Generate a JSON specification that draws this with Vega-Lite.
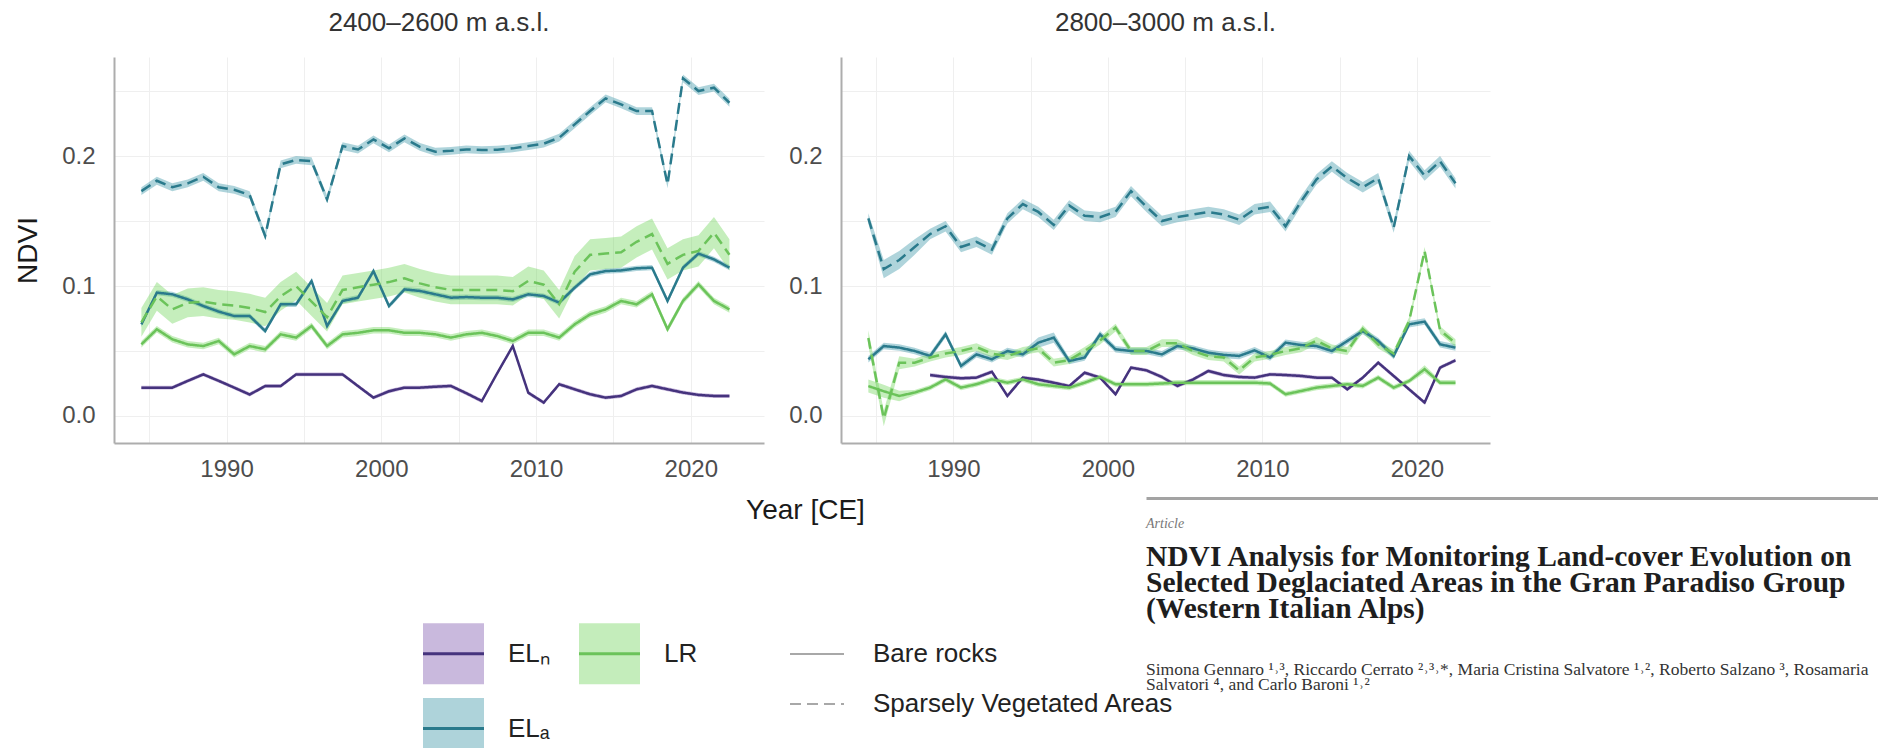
{
"$schema": "https://vega.github.io/schema/vega-lite/v6.json",
"padding": {"left": 14, "top": 10, "right": 0, "bottom": 0},
"background": "white",
"bounds": "flush",
"spacing": 441,
"datasets": {"ndvi": [
{"zone":"2400-2600","cls":"EL_N","cover":"BR","date":"1984-07","ndvi":0.0218,"se":0.0015},
{"zone":"2400-2600","cls":"EL_N","cover":"BR","date":"1985-07","ndvi":0.0218,"se":0.0015},
{"zone":"2400-2600","cls":"EL_N","cover":"BR","date":"1986-07","ndvi":0.0218,"se":0.0015},
{"zone":"2400-2600","cls":"EL_N","cover":"BR","date":"1987-07","ndvi":0.027,"se":0.0015},
{"zone":"2400-2600","cls":"EL_N","cover":"BR","date":"1988-07","ndvi":0.032,"se":0.0015},
{"zone":"2400-2600","cls":"EL_N","cover":"BR","date":"1989-07","ndvi":0.027,"se":0.0015},
{"zone":"2400-2600","cls":"EL_N","cover":"BR","date":"1990-07","ndvi":0.0218,"se":0.0015},
{"zone":"2400-2600","cls":"EL_N","cover":"BR","date":"1991-07","ndvi":0.0165,"se":0.0015},
{"zone":"2400-2600","cls":"EL_N","cover":"BR","date":"1992-07","ndvi":0.023,"se":0.0015},
{"zone":"2400-2600","cls":"EL_N","cover":"BR","date":"1993-07","ndvi":0.023,"se":0.0015},
{"zone":"2400-2600","cls":"EL_N","cover":"BR","date":"1994-07","ndvi":0.032,"se":0.0015},
{"zone":"2400-2600","cls":"EL_N","cover":"BR","date":"1995-07","ndvi":0.032,"se":0.0015},
{"zone":"2400-2600","cls":"EL_N","cover":"BR","date":"1996-07","ndvi":0.032,"se":0.0015},
{"zone":"2400-2600","cls":"EL_N","cover":"BR","date":"1997-07","ndvi":0.032,"se":0.0015},
{"zone":"2400-2600","cls":"EL_N","cover":"BR","date":"1998-07","ndvi":0.023,"se":0.0015},
{"zone":"2400-2600","cls":"EL_N","cover":"BR","date":"1999-07","ndvi":0.0141,"se":0.0015},
{"zone":"2400-2600","cls":"EL_N","cover":"BR","date":"2000-07","ndvi":0.019,"se":0.0015},
{"zone":"2400-2600","cls":"EL_N","cover":"BR","date":"2001-07","ndvi":0.0218,"se":0.0015},
{"zone":"2400-2600","cls":"EL_N","cover":"BR","date":"2002-07","ndvi":0.0218,"se":0.0015},
{"zone":"2400-2600","cls":"EL_N","cover":"BR","date":"2003-07","ndvi":0.0225,"se":0.0015},
{"zone":"2400-2600","cls":"EL_N","cover":"BR","date":"2004-07","ndvi":0.0231,"se":0.0015},
{"zone":"2400-2600","cls":"EL_N","cover":"BR","date":"2005-07","ndvi":0.0175,"se":0.0015},
{"zone":"2400-2600","cls":"EL_N","cover":"BR","date":"2006-07","ndvi":0.0115,"se":0.0015},
{"zone":"2400-2600","cls":"EL_N","cover":"BR","date":"2007-07","ndvi":0.033,"se":0.0015},
{"zone":"2400-2600","cls":"EL_N","cover":"BR","date":"2008-07","ndvi":0.0538,"se":0.0015},
{"zone":"2400-2600","cls":"EL_N","cover":"BR","date":"2009-07","ndvi":0.0179,"se":0.0015},
{"zone":"2400-2600","cls":"EL_N","cover":"BR","date":"2010-07","ndvi":0.0103,"se":0.0015},
{"zone":"2400-2600","cls":"EL_N","cover":"BR","date":"2011-07","ndvi":0.0244,"se":0.0015},
{"zone":"2400-2600","cls":"EL_N","cover":"BR","date":"2012-07","ndvi":0.0205,"se":0.0015},
{"zone":"2400-2600","cls":"EL_N","cover":"BR","date":"2013-07","ndvi":0.0167,"se":0.0015},
{"zone":"2400-2600","cls":"EL_N","cover":"BR","date":"2014-07","ndvi":0.0141,"se":0.0015},
{"zone":"2400-2600","cls":"EL_N","cover":"BR","date":"2015-07","ndvi":0.0154,"se":0.0015},
{"zone":"2400-2600","cls":"EL_N","cover":"BR","date":"2016-07","ndvi":0.0205,"se":0.0015},
{"zone":"2400-2600","cls":"EL_N","cover":"BR","date":"2017-07","ndvi":0.0231,"se":0.0015},
{"zone":"2400-2600","cls":"EL_N","cover":"BR","date":"2018-07","ndvi":0.0205,"se":0.0015},
{"zone":"2400-2600","cls":"EL_N","cover":"BR","date":"2019-07","ndvi":0.018,"se":0.0015},
{"zone":"2400-2600","cls":"EL_N","cover":"BR","date":"2020-07","ndvi":0.0162,"se":0.0015},
{"zone":"2400-2600","cls":"EL_N","cover":"BR","date":"2021-07","ndvi":0.0154,"se":0.0015},
{"zone":"2400-2600","cls":"EL_N","cover":"BR","date":"2022-07","ndvi":0.0154,"se":0.0015},
{"zone":"2400-2600","cls":"EL_A","cover":"BR","date":"1984-07","ndvi":0.0705,"se":0.002},
{"zone":"2400-2600","cls":"EL_A","cover":"BR","date":"1985-07","ndvi":0.0949,"se":0.002},
{"zone":"2400-2600","cls":"EL_A","cover":"BR","date":"1986-07","ndvi":0.0936,"se":0.002},
{"zone":"2400-2600","cls":"EL_A","cover":"BR","date":"1987-07","ndvi":0.0897,"se":0.002},
{"zone":"2400-2600","cls":"EL_A","cover":"BR","date":"1988-07","ndvi":0.0846,"se":0.002},
{"zone":"2400-2600","cls":"EL_A","cover":"BR","date":"1989-07","ndvi":0.0803,"se":0.002},
{"zone":"2400-2600","cls":"EL_A","cover":"BR","date":"1990-07","ndvi":0.0769,"se":0.002},
{"zone":"2400-2600","cls":"EL_A","cover":"BR","date":"1991-07","ndvi":0.0769,"se":0.002},
{"zone":"2400-2600","cls":"EL_A","cover":"BR","date":"1992-07","ndvi":0.0654,"se":0.002},
{"zone":"2400-2600","cls":"EL_A","cover":"BR","date":"1993-07","ndvi":0.0859,"se":0.002},
{"zone":"2400-2600","cls":"EL_A","cover":"BR","date":"1994-07","ndvi":0.0859,"se":0.002},
{"zone":"2400-2600","cls":"EL_A","cover":"BR","date":"1995-07","ndvi":0.1038,"se":0.002},
{"zone":"2400-2600","cls":"EL_A","cover":"BR","date":"1996-07","ndvi":0.0692,"se":0.002},
{"zone":"2400-2600","cls":"EL_A","cover":"BR","date":"1997-07","ndvi":0.0885,"se":0.002},
{"zone":"2400-2600","cls":"EL_A","cover":"BR","date":"1998-07","ndvi":0.091,"se":0.002},
{"zone":"2400-2600","cls":"EL_A","cover":"BR","date":"1999-07","ndvi":0.1115,"se":0.002},
{"zone":"2400-2600","cls":"EL_A","cover":"BR","date":"2000-07","ndvi":0.0846,"se":0.002},
{"zone":"2400-2600","cls":"EL_A","cover":"BR","date":"2001-07","ndvi":0.0974,"se":0.002},
{"zone":"2400-2600","cls":"EL_A","cover":"BR","date":"2002-07","ndvi":0.0962,"se":0.002},
{"zone":"2400-2600","cls":"EL_A","cover":"BR","date":"2003-07","ndvi":0.0936,"se":0.002},
{"zone":"2400-2600","cls":"EL_A","cover":"BR","date":"2004-07","ndvi":0.091,"se":0.002},
{"zone":"2400-2600","cls":"EL_A","cover":"BR","date":"2005-07","ndvi":0.0915,"se":0.002},
{"zone":"2400-2600","cls":"EL_A","cover":"BR","date":"2006-07","ndvi":0.091,"se":0.002},
{"zone":"2400-2600","cls":"EL_A","cover":"BR","date":"2007-07","ndvi":0.091,"se":0.002},
{"zone":"2400-2600","cls":"EL_A","cover":"BR","date":"2008-07","ndvi":0.0897,"se":0.002},
{"zone":"2400-2600","cls":"EL_A","cover":"BR","date":"2009-07","ndvi":0.0936,"se":0.002},
{"zone":"2400-2600","cls":"EL_A","cover":"BR","date":"2010-07","ndvi":0.0923,"se":0.002},
{"zone":"2400-2600","cls":"EL_A","cover":"BR","date":"2011-07","ndvi":0.0872,"se":0.002},
{"zone":"2400-2600","cls":"EL_A","cover":"BR","date":"2012-07","ndvi":0.0987,"se":0.002},
{"zone":"2400-2600","cls":"EL_A","cover":"BR","date":"2013-07","ndvi":0.109,"se":0.002},
{"zone":"2400-2600","cls":"EL_A","cover":"BR","date":"2014-07","ndvi":0.1115,"se":0.002},
{"zone":"2400-2600","cls":"EL_A","cover":"BR","date":"2015-07","ndvi":0.112,"se":0.002},
{"zone":"2400-2600","cls":"EL_A","cover":"BR","date":"2016-07","ndvi":0.1136,"se":0.002},
{"zone":"2400-2600","cls":"EL_A","cover":"BR","date":"2017-07","ndvi":0.1141,"se":0.002},
{"zone":"2400-2600","cls":"EL_A","cover":"BR","date":"2018-07","ndvi":0.0885,"se":0.002},
{"zone":"2400-2600","cls":"EL_A","cover":"BR","date":"2019-07","ndvi":0.1141,"se":0.002},
{"zone":"2400-2600","cls":"EL_A","cover":"BR","date":"2020-07","ndvi":0.1249,"se":0.002},
{"zone":"2400-2600","cls":"EL_A","cover":"BR","date":"2021-07","ndvi":0.1205,"se":0.002},
{"zone":"2400-2600","cls":"EL_A","cover":"BR","date":"2022-07","ndvi":0.1141,"se":0.002},
{"zone":"2400-2600","cls":"EL_A","cover":"SVA","date":"1984-07","ndvi":0.173,"se":0.003},
{"zone":"2400-2600","cls":"EL_A","cover":"SVA","date":"1985-07","ndvi":0.181,"se":0.003},
{"zone":"2400-2600","cls":"EL_A","cover":"SVA","date":"1986-07","ndvi":0.176,"se":0.003},
{"zone":"2400-2600","cls":"EL_A","cover":"SVA","date":"1987-07","ndvi":0.179,"se":0.003},
{"zone":"2400-2600","cls":"EL_A","cover":"SVA","date":"1988-07","ndvi":0.184,"se":0.003},
{"zone":"2400-2600","cls":"EL_A","cover":"SVA","date":"1989-07","ndvi":0.176,"se":0.003},
{"zone":"2400-2600","cls":"EL_A","cover":"SVA","date":"1990-07","ndvi":0.174,"se":0.003},
{"zone":"2400-2600","cls":"EL_A","cover":"SVA","date":"1991-07","ndvi":0.17,"se":0.003},
{"zone":"2400-2600","cls":"EL_A","cover":"SVA","date":"1992-07","ndvi":0.1385,"se":0.003},
{"zone":"2400-2600","cls":"EL_A","cover":"SVA","date":"1993-07","ndvi":0.1936,"se":0.003},
{"zone":"2400-2600","cls":"EL_A","cover":"SVA","date":"1994-07","ndvi":0.197,"se":0.003},
{"zone":"2400-2600","cls":"EL_A","cover":"SVA","date":"1995-07","ndvi":0.196,"se":0.003},
{"zone":"2400-2600","cls":"EL_A","cover":"SVA","date":"1996-07","ndvi":0.1667,"se":0.003},
{"zone":"2400-2600","cls":"EL_A","cover":"SVA","date":"1997-07","ndvi":0.2077,"se":0.003},
{"zone":"2400-2600","cls":"EL_A","cover":"SVA","date":"1998-07","ndvi":0.205,"se":0.003},
{"zone":"2400-2600","cls":"EL_A","cover":"SVA","date":"1999-07","ndvi":0.2128,"se":0.003},
{"zone":"2400-2600","cls":"EL_A","cover":"SVA","date":"2000-07","ndvi":0.2059,"se":0.003},
{"zone":"2400-2600","cls":"EL_A","cover":"SVA","date":"2001-07","ndvi":0.2136,"se":0.003},
{"zone":"2400-2600","cls":"EL_A","cover":"SVA","date":"2002-07","ndvi":0.207,"se":0.003},
{"zone":"2400-2600","cls":"EL_A","cover":"SVA","date":"2003-07","ndvi":0.2033,"se":0.003},
{"zone":"2400-2600","cls":"EL_A","cover":"SVA","date":"2004-07","ndvi":0.204,"se":0.003},
{"zone":"2400-2600","cls":"EL_A","cover":"SVA","date":"2005-07","ndvi":0.2051,"se":0.003},
{"zone":"2400-2600","cls":"EL_A","cover":"SVA","date":"2006-07","ndvi":0.2046,"se":0.003},
{"zone":"2400-2600","cls":"EL_A","cover":"SVA","date":"2007-07","ndvi":0.2049,"se":0.003},
{"zone":"2400-2600","cls":"EL_A","cover":"SVA","date":"2008-07","ndvi":0.2059,"se":0.003},
{"zone":"2400-2600","cls":"EL_A","cover":"SVA","date":"2009-07","ndvi":0.2077,"se":0.003},
{"zone":"2400-2600","cls":"EL_A","cover":"SVA","date":"2010-07","ndvi":0.2095,"se":0.003},
{"zone":"2400-2600","cls":"EL_A","cover":"SVA","date":"2011-07","ndvi":0.2141,"se":0.003},
{"zone":"2400-2600","cls":"EL_A","cover":"SVA","date":"2012-07","ndvi":0.2244,"se":0.003},
{"zone":"2400-2600","cls":"EL_A","cover":"SVA","date":"2013-07","ndvi":0.2346,"se":0.003},
{"zone":"2400-2600","cls":"EL_A","cover":"SVA","date":"2014-07","ndvi":0.2444,"se":0.003},
{"zone":"2400-2600","cls":"EL_A","cover":"SVA","date":"2015-07","ndvi":0.2397,"se":0.003},
{"zone":"2400-2600","cls":"EL_A","cover":"SVA","date":"2016-07","ndvi":0.2346,"se":0.003},
{"zone":"2400-2600","cls":"EL_A","cover":"SVA","date":"2017-07","ndvi":0.2346,"se":0.003},
{"zone":"2400-2600","cls":"EL_A","cover":"SVA","date":"2018-07","ndvi":0.1782,"se":0.003},
{"zone":"2400-2600","cls":"EL_A","cover":"SVA","date":"2019-07","ndvi":0.2598,"se":0.003},
{"zone":"2400-2600","cls":"EL_A","cover":"SVA","date":"2020-07","ndvi":0.25,"se":0.003},
{"zone":"2400-2600","cls":"EL_A","cover":"SVA","date":"2021-07","ndvi":0.2526,"se":0.003},
{"zone":"2400-2600","cls":"EL_A","cover":"SVA","date":"2022-07","ndvi":0.241,"se":0.003},
{"zone":"2400-2600","cls":"LR","cover":"BR","date":"1984-07","ndvi":0.0551,"se":0.0025},
{"zone":"2400-2600","cls":"LR","cover":"BR","date":"1985-07","ndvi":0.0667,"se":0.0025},
{"zone":"2400-2600","cls":"LR","cover":"BR","date":"1986-07","ndvi":0.059,"se":0.0025},
{"zone":"2400-2600","cls":"LR","cover":"BR","date":"1987-07","ndvi":0.0551,"se":0.0025},
{"zone":"2400-2600","cls":"LR","cover":"BR","date":"1988-07","ndvi":0.0538,"se":0.0025},
{"zone":"2400-2600","cls":"LR","cover":"BR","date":"1989-07","ndvi":0.0577,"se":0.0025},
{"zone":"2400-2600","cls":"LR","cover":"BR","date":"1990-07","ndvi":0.0474,"se":0.0025},
{"zone":"2400-2600","cls":"LR","cover":"BR","date":"1991-07","ndvi":0.0538,"se":0.0025},
{"zone":"2400-2600","cls":"LR","cover":"BR","date":"1992-07","ndvi":0.0513,"se":0.0025},
{"zone":"2400-2600","cls":"LR","cover":"BR","date":"1993-07","ndvi":0.0628,"se":0.0025},
{"zone":"2400-2600","cls":"LR","cover":"BR","date":"1994-07","ndvi":0.0603,"se":0.0025},
{"zone":"2400-2600","cls":"LR","cover":"BR","date":"1995-07","ndvi":0.0692,"se":0.0025},
{"zone":"2400-2600","cls":"LR","cover":"BR","date":"1996-07","ndvi":0.0538,"se":0.0025},
{"zone":"2400-2600","cls":"LR","cover":"BR","date":"1997-07","ndvi":0.0628,"se":0.0025},
{"zone":"2400-2600","cls":"LR","cover":"BR","date":"1998-07","ndvi":0.064,"se":0.0025},
{"zone":"2400-2600","cls":"LR","cover":"BR","date":"1999-07","ndvi":0.0659,"se":0.0025},
{"zone":"2400-2600","cls":"LR","cover":"BR","date":"2000-07","ndvi":0.0659,"se":0.0025},
{"zone":"2400-2600","cls":"LR","cover":"BR","date":"2001-07","ndvi":0.064,"se":0.0025},
{"zone":"2400-2600","cls":"LR","cover":"BR","date":"2002-07","ndvi":0.064,"se":0.0025},
{"zone":"2400-2600","cls":"LR","cover":"BR","date":"2003-07","ndvi":0.0628,"se":0.0025},
{"zone":"2400-2600","cls":"LR","cover":"BR","date":"2004-07","ndvi":0.0603,"se":0.0025},
{"zone":"2400-2600","cls":"LR","cover":"BR","date":"2005-07","ndvi":0.0628,"se":0.0025},
{"zone":"2400-2600","cls":"LR","cover":"BR","date":"2006-07","ndvi":0.064,"se":0.0025},
{"zone":"2400-2600","cls":"LR","cover":"BR","date":"2007-07","ndvi":0.0615,"se":0.0025},
{"zone":"2400-2600","cls":"LR","cover":"BR","date":"2008-07","ndvi":0.0577,"se":0.0025},
{"zone":"2400-2600","cls":"LR","cover":"BR","date":"2009-07","ndvi":0.064,"se":0.0025},
{"zone":"2400-2600","cls":"LR","cover":"BR","date":"2010-07","ndvi":0.064,"se":0.0025},
{"zone":"2400-2600","cls":"LR","cover":"BR","date":"2011-07","ndvi":0.0603,"se":0.0025},
{"zone":"2400-2600","cls":"LR","cover":"BR","date":"2012-07","ndvi":0.0705,"se":0.0025},
{"zone":"2400-2600","cls":"LR","cover":"BR","date":"2013-07","ndvi":0.0782,"se":0.0025},
{"zone":"2400-2600","cls":"LR","cover":"BR","date":"2014-07","ndvi":0.082,"se":0.0025},
{"zone":"2400-2600","cls":"LR","cover":"BR","date":"2015-07","ndvi":0.0885,"se":0.0025},
{"zone":"2400-2600","cls":"LR","cover":"BR","date":"2016-07","ndvi":0.0859,"se":0.0025},
{"zone":"2400-2600","cls":"LR","cover":"BR","date":"2017-07","ndvi":0.0936,"se":0.0025},
{"zone":"2400-2600","cls":"LR","cover":"BR","date":"2018-07","ndvi":0.0667,"se":0.0025},
{"zone":"2400-2600","cls":"LR","cover":"BR","date":"2019-07","ndvi":0.0885,"se":0.0025},
{"zone":"2400-2600","cls":"LR","cover":"BR","date":"2020-07","ndvi":0.1013,"se":0.0025},
{"zone":"2400-2600","cls":"LR","cover":"BR","date":"2021-07","ndvi":0.0885,"se":0.0025},
{"zone":"2400-2600","cls":"LR","cover":"BR","date":"2022-07","ndvi":0.082,"se":0.0025},
{"zone":"2400-2600","cls":"LR","cover":"SVA","date":"1984-07","ndvi":0.072,"se":0.011},
{"zone":"2400-2600","cls":"LR","cover":"SVA","date":"1985-07","ndvi":0.092,"se":0.011},
{"zone":"2400-2600","cls":"LR","cover":"SVA","date":"1986-07","ndvi":0.082,"se":0.011},
{"zone":"2400-2600","cls":"LR","cover":"SVA","date":"1987-07","ndvi":0.087,"se":0.011},
{"zone":"2400-2600","cls":"LR","cover":"SVA","date":"1988-07","ndvi":0.088,"se":0.011},
{"zone":"2400-2600","cls":"LR","cover":"SVA","date":"1989-07","ndvi":0.086,"se":0.011},
{"zone":"2400-2600","cls":"LR","cover":"SVA","date":"1990-07","ndvi":0.085,"se":0.011},
{"zone":"2400-2600","cls":"LR","cover":"SVA","date":"1991-07","ndvi":0.083,"se":0.011},
{"zone":"2400-2600","cls":"LR","cover":"SVA","date":"1992-07","ndvi":0.08,"se":0.011},
{"zone":"2400-2600","cls":"LR","cover":"SVA","date":"1993-07","ndvi":0.092,"se":0.011},
{"zone":"2400-2600","cls":"LR","cover":"SVA","date":"1994-07","ndvi":0.1,"se":0.011},
{"zone":"2400-2600","cls":"LR","cover":"SVA","date":"1995-07","ndvi":0.088,"se":0.011},
{"zone":"2400-2600","cls":"LR","cover":"SVA","date":"1996-07","ndvi":0.076,"se":0.011},
{"zone":"2400-2600","cls":"LR","cover":"SVA","date":"1997-07","ndvi":0.097,"se":0.011},
{"zone":"2400-2600","cls":"LR","cover":"SVA","date":"1998-07","ndvi":0.099,"se":0.011},
{"zone":"2400-2600","cls":"LR","cover":"SVA","date":"1999-07","ndvi":0.101,"se":0.011},
{"zone":"2400-2600","cls":"LR","cover":"SVA","date":"2000-07","ndvi":0.103,"se":0.011},
{"zone":"2400-2600","cls":"LR","cover":"SVA","date":"2001-07","ndvi":0.106,"se":0.011},
{"zone":"2400-2600","cls":"LR","cover":"SVA","date":"2002-07","ndvi":0.102,"se":0.011},
{"zone":"2400-2600","cls":"LR","cover":"SVA","date":"2003-07","ndvi":0.099,"se":0.011},
{"zone":"2400-2600","cls":"LR","cover":"SVA","date":"2004-07","ndvi":0.097,"se":0.011},
{"zone":"2400-2600","cls":"LR","cover":"SVA","date":"2005-07","ndvi":0.097,"se":0.011},
{"zone":"2400-2600","cls":"LR","cover":"SVA","date":"2006-07","ndvi":0.097,"se":0.011},
{"zone":"2400-2600","cls":"LR","cover":"SVA","date":"2007-07","ndvi":0.097,"se":0.011},
{"zone":"2400-2600","cls":"LR","cover":"SVA","date":"2008-07","ndvi":0.096,"se":0.011},
{"zone":"2400-2600","cls":"LR","cover":"SVA","date":"2009-07","ndvi":0.104,"se":0.011},
{"zone":"2400-2600","cls":"LR","cover":"SVA","date":"2010-07","ndvi":0.101,"se":0.011},
{"zone":"2400-2600","cls":"LR","cover":"SVA","date":"2011-07","ndvi":0.086,"se":0.011},
{"zone":"2400-2600","cls":"LR","cover":"SVA","date":"2012-07","ndvi":0.111,"se":0.012},
{"zone":"2400-2600","cls":"LR","cover":"SVA","date":"2013-07","ndvi":0.124,"se":0.012},
{"zone":"2400-2600","cls":"LR","cover":"SVA","date":"2014-07","ndvi":0.125,"se":0.012},
{"zone":"2400-2600","cls":"LR","cover":"SVA","date":"2015-07","ndvi":0.126,"se":0.012},
{"zone":"2400-2600","cls":"LR","cover":"SVA","date":"2016-07","ndvi":0.134,"se":0.012},
{"zone":"2400-2600","cls":"LR","cover":"SVA","date":"2017-07","ndvi":0.14,"se":0.012},
{"zone":"2400-2600","cls":"LR","cover":"SVA","date":"2018-07","ndvi":0.117,"se":0.012},
{"zone":"2400-2600","cls":"LR","cover":"SVA","date":"2019-07","ndvi":0.124,"se":0.012},
{"zone":"2400-2600","cls":"LR","cover":"SVA","date":"2020-07","ndvi":0.127,"se":0.012},
{"zone":"2400-2600","cls":"LR","cover":"SVA","date":"2021-07","ndvi":0.141,"se":0.012},
{"zone":"2400-2600","cls":"LR","cover":"SVA","date":"2022-07","ndvi":0.124,"se":0.012},
{"zone":"2800-3000","cls":"EL_N","cover":"BR","date":"1988-07","ndvi":0.0315,"se":0.0015},
{"zone":"2800-3000","cls":"EL_N","cover":"BR","date":"1989-07","ndvi":0.03,"se":0.0015},
{"zone":"2800-3000","cls":"EL_N","cover":"BR","date":"1990-07","ndvi":0.029,"se":0.0015},
{"zone":"2800-3000","cls":"EL_N","cover":"BR","date":"1991-07","ndvi":0.0295,"se":0.0015},
{"zone":"2800-3000","cls":"EL_N","cover":"BR","date":"1992-07","ndvi":0.034,"se":0.0015},
{"zone":"2800-3000","cls":"EL_N","cover":"BR","date":"1993-07","ndvi":0.0154,"se":0.0015},
{"zone":"2800-3000","cls":"EL_N","cover":"BR","date":"1994-07","ndvi":0.0295,"se":0.0015},
{"zone":"2800-3000","cls":"EL_N","cover":"BR","date":"1995-07","ndvi":0.028,"se":0.0015},
{"zone":"2800-3000","cls":"EL_N","cover":"BR","date":"1996-07","ndvi":0.0256,"se":0.0015},
{"zone":"2800-3000","cls":"EL_N","cover":"BR","date":"1997-07","ndvi":0.023,"se":0.0015},
{"zone":"2800-3000","cls":"EL_N","cover":"BR","date":"1998-07","ndvi":0.0333,"se":0.0015},
{"zone":"2800-3000","cls":"EL_N","cover":"BR","date":"1999-07","ndvi":0.0295,"se":0.0015},
{"zone":"2800-3000","cls":"EL_N","cover":"BR","date":"2000-07","ndvi":0.0167,"se":0.0015},
{"zone":"2800-3000","cls":"EL_N","cover":"BR","date":"2001-07","ndvi":0.0372,"se":0.0015},
{"zone":"2800-3000","cls":"EL_N","cover":"BR","date":"2002-07","ndvi":0.0351,"se":0.0015},
{"zone":"2800-3000","cls":"EL_N","cover":"BR","date":"2003-07","ndvi":0.03,"se":0.0015},
{"zone":"2800-3000","cls":"EL_N","cover":"BR","date":"2004-07","ndvi":0.0231,"se":0.0015},
{"zone":"2800-3000","cls":"EL_N","cover":"BR","date":"2005-07","ndvi":0.028,"se":0.0015},
{"zone":"2800-3000","cls":"EL_N","cover":"BR","date":"2006-07","ndvi":0.0346,"se":0.0015},
{"zone":"2800-3000","cls":"EL_N","cover":"BR","date":"2007-07","ndvi":0.0315,"se":0.0015},
{"zone":"2800-3000","cls":"EL_N","cover":"BR","date":"2008-07","ndvi":0.03,"se":0.0015},
{"zone":"2800-3000","cls":"EL_N","cover":"BR","date":"2009-07","ndvi":0.0295,"se":0.0015},
{"zone":"2800-3000","cls":"EL_N","cover":"BR","date":"2010-07","ndvi":0.032,"se":0.0015},
{"zone":"2800-3000","cls":"EL_N","cover":"BR","date":"2011-07","ndvi":0.0315,"se":0.0015},
{"zone":"2800-3000","cls":"EL_N","cover":"BR","date":"2012-07","ndvi":0.0308,"se":0.0015},
{"zone":"2800-3000","cls":"EL_N","cover":"BR","date":"2013-07","ndvi":0.0295,"se":0.0015},
{"zone":"2800-3000","cls":"EL_N","cover":"BR","date":"2014-07","ndvi":0.0295,"se":0.0015},
{"zone":"2800-3000","cls":"EL_N","cover":"BR","date":"2015-07","ndvi":0.0205,"se":0.0015},
{"zone":"2800-3000","cls":"EL_N","cover":"BR","date":"2016-07","ndvi":0.0295,"se":0.0015},
{"zone":"2800-3000","cls":"EL_N","cover":"BR","date":"2017-07","ndvi":0.041,"se":0.0015},
{"zone":"2800-3000","cls":"EL_N","cover":"BR","date":"2018-07","ndvi":0.0308,"se":0.0015},
{"zone":"2800-3000","cls":"EL_N","cover":"BR","date":"2019-07","ndvi":0.0205,"se":0.0015},
{"zone":"2800-3000","cls":"EL_N","cover":"BR","date":"2020-07","ndvi":0.0103,"se":0.0015},
{"zone":"2800-3000","cls":"EL_N","cover":"BR","date":"2021-07","ndvi":0.0372,"se":0.0015},
{"zone":"2800-3000","cls":"EL_N","cover":"BR","date":"2022-07","ndvi":0.0428,"se":0.0015},
{"zone":"2800-3000","cls":"EL_A","cover":"BR","date":"1984-07","ndvi":0.0436,"se":0.0025},
{"zone":"2800-3000","cls":"EL_A","cover":"BR","date":"1985-07","ndvi":0.0538,"se":0.0025},
{"zone":"2800-3000","cls":"EL_A","cover":"BR","date":"1986-07","ndvi":0.0526,"se":0.0025},
{"zone":"2800-3000","cls":"EL_A","cover":"BR","date":"1987-07","ndvi":0.05,"se":0.0025},
{"zone":"2800-3000","cls":"EL_A","cover":"BR","date":"1988-07","ndvi":0.0462,"se":0.0025},
{"zone":"2800-3000","cls":"EL_A","cover":"BR","date":"1989-07","ndvi":0.0628,"se":0.0025},
{"zone":"2800-3000","cls":"EL_A","cover":"BR","date":"1990-07","ndvi":0.0385,"se":0.0025},
{"zone":"2800-3000","cls":"EL_A","cover":"BR","date":"1991-07","ndvi":0.0474,"se":0.0025},
{"zone":"2800-3000","cls":"EL_A","cover":"BR","date":"1992-07","ndvi":0.0436,"se":0.0025},
{"zone":"2800-3000","cls":"EL_A","cover":"BR","date":"1993-07","ndvi":0.05,"se":0.0025},
{"zone":"2800-3000","cls":"EL_A","cover":"BR","date":"1994-07","ndvi":0.0474,"se":0.0025},
{"zone":"2800-3000","cls":"EL_A","cover":"BR","date":"1995-07","ndvi":0.0564,"se":0.004},
{"zone":"2800-3000","cls":"EL_A","cover":"BR","date":"1996-07","ndvi":0.0603,"se":0.004},
{"zone":"2800-3000","cls":"EL_A","cover":"BR","date":"1997-07","ndvi":0.0423,"se":0.0025},
{"zone":"2800-3000","cls":"EL_A","cover":"BR","date":"1998-07","ndvi":0.0449,"se":0.0025},
{"zone":"2800-3000","cls":"EL_A","cover":"BR","date":"1999-07","ndvi":0.0628,"se":0.0025},
{"zone":"2800-3000","cls":"EL_A","cover":"BR","date":"2000-07","ndvi":0.0513,"se":0.0025},
{"zone":"2800-3000","cls":"EL_A","cover":"BR","date":"2001-07","ndvi":0.05,"se":0.0025},
{"zone":"2800-3000","cls":"EL_A","cover":"BR","date":"2002-07","ndvi":0.05,"se":0.0025},
{"zone":"2800-3000","cls":"EL_A","cover":"BR","date":"2003-07","ndvi":0.0474,"se":0.0025},
{"zone":"2800-3000","cls":"EL_A","cover":"BR","date":"2004-07","ndvi":0.0538,"se":0.0025},
{"zone":"2800-3000","cls":"EL_A","cover":"BR","date":"2005-07","ndvi":0.052,"se":0.0025},
{"zone":"2800-3000","cls":"EL_A","cover":"BR","date":"2006-07","ndvi":0.0487,"se":0.0025},
{"zone":"2800-3000","cls":"EL_A","cover":"BR","date":"2007-07","ndvi":0.047,"se":0.0025},
{"zone":"2800-3000","cls":"EL_A","cover":"BR","date":"2008-07","ndvi":0.0462,"se":0.0025},
{"zone":"2800-3000","cls":"EL_A","cover":"BR","date":"2009-07","ndvi":0.0505,"se":0.0025},
{"zone":"2800-3000","cls":"EL_A","cover":"BR","date":"2010-07","ndvi":0.0449,"se":0.0025},
{"zone":"2800-3000","cls":"EL_A","cover":"BR","date":"2011-07","ndvi":0.0564,"se":0.0025},
{"zone":"2800-3000","cls":"EL_A","cover":"BR","date":"2012-07","ndvi":0.0546,"se":0.0025},
{"zone":"2800-3000","cls":"EL_A","cover":"BR","date":"2013-07","ndvi":0.0538,"se":0.0025},
{"zone":"2800-3000","cls":"EL_A","cover":"BR","date":"2014-07","ndvi":0.05,"se":0.0025},
{"zone":"2800-3000","cls":"EL_A","cover":"BR","date":"2015-07","ndvi":0.0577,"se":0.0025},
{"zone":"2800-3000","cls":"EL_A","cover":"BR","date":"2016-07","ndvi":0.0654,"se":0.0025},
{"zone":"2800-3000","cls":"EL_A","cover":"BR","date":"2017-07","ndvi":0.0577,"se":0.0025},
{"zone":"2800-3000","cls":"EL_A","cover":"BR","date":"2018-07","ndvi":0.0462,"se":0.0025},
{"zone":"2800-3000","cls":"EL_A","cover":"BR","date":"2019-07","ndvi":0.0705,"se":0.0025},
{"zone":"2800-3000","cls":"EL_A","cover":"BR","date":"2020-07","ndvi":0.0726,"se":0.0025},
{"zone":"2800-3000","cls":"EL_A","cover":"BR","date":"2021-07","ndvi":0.0551,"se":0.0025},
{"zone":"2800-3000","cls":"EL_A","cover":"BR","date":"2022-07","ndvi":0.0526,"se":0.0025},
{"zone":"2800-3000","cls":"EL_A","cover":"SVA","date":"1984-07","ndvi":0.152,"se":0.004},
{"zone":"2800-3000","cls":"EL_A","cover":"SVA","date":"1985-07","ndvi":0.113,"se":0.007},
{"zone":"2800-3000","cls":"EL_A","cover":"SVA","date":"1986-07","ndvi":0.12,"se":0.007},
{"zone":"2800-3000","cls":"EL_A","cover":"SVA","date":"1987-07","ndvi":0.13,"se":0.006},
{"zone":"2800-3000","cls":"EL_A","cover":"SVA","date":"1988-07","ndvi":0.14,"se":0.004},
{"zone":"2800-3000","cls":"EL_A","cover":"SVA","date":"1989-07","ndvi":0.146,"se":0.004},
{"zone":"2800-3000","cls":"EL_A","cover":"SVA","date":"1990-07","ndvi":0.13,"se":0.004},
{"zone":"2800-3000","cls":"EL_A","cover":"SVA","date":"1991-07","ndvi":0.134,"se":0.004},
{"zone":"2800-3000","cls":"EL_A","cover":"SVA","date":"1992-07","ndvi":0.128,"se":0.004},
{"zone":"2800-3000","cls":"EL_A","cover":"SVA","date":"1993-07","ndvi":0.152,"se":0.004},
{"zone":"2800-3000","cls":"EL_A","cover":"SVA","date":"1994-07","ndvi":0.163,"se":0.004},
{"zone":"2800-3000","cls":"EL_A","cover":"SVA","date":"1995-07","ndvi":0.157,"se":0.004},
{"zone":"2800-3000","cls":"EL_A","cover":"SVA","date":"1996-07","ndvi":0.147,"se":0.004},
{"zone":"2800-3000","cls":"EL_A","cover":"SVA","date":"1997-07","ndvi":0.162,"se":0.004},
{"zone":"2800-3000","cls":"EL_A","cover":"SVA","date":"1998-07","ndvi":0.154,"se":0.004},
{"zone":"2800-3000","cls":"EL_A","cover":"SVA","date":"1999-07","ndvi":0.153,"se":0.004},
{"zone":"2800-3000","cls":"EL_A","cover":"SVA","date":"2000-07","ndvi":0.157,"se":0.004},
{"zone":"2800-3000","cls":"EL_A","cover":"SVA","date":"2001-07","ndvi":0.173,"se":0.004},
{"zone":"2800-3000","cls":"EL_A","cover":"SVA","date":"2002-07","ndvi":0.161,"se":0.004},
{"zone":"2800-3000","cls":"EL_A","cover":"SVA","date":"2003-07","ndvi":0.15,"se":0.004},
{"zone":"2800-3000","cls":"EL_A","cover":"SVA","date":"2004-07","ndvi":0.153,"se":0.004},
{"zone":"2800-3000","cls":"EL_A","cover":"SVA","date":"2005-07","ndvi":0.155,"se":0.004},
{"zone":"2800-3000","cls":"EL_A","cover":"SVA","date":"2006-07","ndvi":0.157,"se":0.004},
{"zone":"2800-3000","cls":"EL_A","cover":"SVA","date":"2007-07","ndvi":0.155,"se":0.004},
{"zone":"2800-3000","cls":"EL_A","cover":"SVA","date":"2008-07","ndvi":0.151,"se":0.004},
{"zone":"2800-3000","cls":"EL_A","cover":"SVA","date":"2009-07","ndvi":0.159,"se":0.004},
{"zone":"2800-3000","cls":"EL_A","cover":"SVA","date":"2010-07","ndvi":0.161,"se":0.004},
{"zone":"2800-3000","cls":"EL_A","cover":"SVA","date":"2011-07","ndvi":0.146,"se":0.004},
{"zone":"2800-3000","cls":"EL_A","cover":"SVA","date":"2012-07","ndvi":0.165,"se":0.004},
{"zone":"2800-3000","cls":"EL_A","cover":"SVA","date":"2013-07","ndvi":0.182,"se":0.004},
{"zone":"2800-3000","cls":"EL_A","cover":"SVA","date":"2014-07","ndvi":0.192,"se":0.004},
{"zone":"2800-3000","cls":"EL_A","cover":"SVA","date":"2015-07","ndvi":0.183,"se":0.004},
{"zone":"2800-3000","cls":"EL_A","cover":"SVA","date":"2016-07","ndvi":0.176,"se":0.004},
{"zone":"2800-3000","cls":"EL_A","cover":"SVA","date":"2017-07","ndvi":0.183,"se":0.004},
{"zone":"2800-3000","cls":"EL_A","cover":"SVA","date":"2018-07","ndvi":0.145,"se":0.004},
{"zone":"2800-3000","cls":"EL_A","cover":"SVA","date":"2019-07","ndvi":0.2,"se":0.004},
{"zone":"2800-3000","cls":"EL_A","cover":"SVA","date":"2020-07","ndvi":0.185,"se":0.004},
{"zone":"2800-3000","cls":"EL_A","cover":"SVA","date":"2021-07","ndvi":0.196,"se":0.004},
{"zone":"2800-3000","cls":"EL_A","cover":"SVA","date":"2022-07","ndvi":0.179,"se":0.004},
{"zone":"2800-3000","cls":"LR","cover":"BR","date":"1984-07","ndvi":0.023,"se":0.005},
{"zone":"2800-3000","cls":"LR","cover":"BR","date":"1985-07","ndvi":0.019,"se":0.005},
{"zone":"2800-3000","cls":"LR","cover":"BR","date":"1986-07","ndvi":0.0154,"se":0.004},
{"zone":"2800-3000","cls":"LR","cover":"BR","date":"1987-07","ndvi":0.018,"se":0.002},
{"zone":"2800-3000","cls":"LR","cover":"BR","date":"1988-07","ndvi":0.0218,"se":0.002},
{"zone":"2800-3000","cls":"LR","cover":"BR","date":"1989-07","ndvi":0.0282,"se":0.002},
{"zone":"2800-3000","cls":"LR","cover":"BR","date":"1990-07","ndvi":0.0218,"se":0.002},
{"zone":"2800-3000","cls":"LR","cover":"BR","date":"1991-07","ndvi":0.0244,"se":0.002},
{"zone":"2800-3000","cls":"LR","cover":"BR","date":"1992-07","ndvi":0.0282,"se":0.002},
{"zone":"2800-3000","cls":"LR","cover":"BR","date":"1993-07","ndvi":0.0256,"se":0.002},
{"zone":"2800-3000","cls":"LR","cover":"BR","date":"1994-07","ndvi":0.0282,"se":0.002},
{"zone":"2800-3000","cls":"LR","cover":"BR","date":"1995-07","ndvi":0.0244,"se":0.002},
{"zone":"2800-3000","cls":"LR","cover":"BR","date":"1996-07","ndvi":0.0231,"se":0.002},
{"zone":"2800-3000","cls":"LR","cover":"BR","date":"1997-07","ndvi":0.0218,"se":0.002},
{"zone":"2800-3000","cls":"LR","cover":"BR","date":"1998-07","ndvi":0.0256,"se":0.002},
{"zone":"2800-3000","cls":"LR","cover":"BR","date":"1999-07","ndvi":0.03,"se":0.002},
{"zone":"2800-3000","cls":"LR","cover":"BR","date":"2000-07","ndvi":0.0244,"se":0.002},
{"zone":"2800-3000","cls":"LR","cover":"BR","date":"2001-07","ndvi":0.0244,"se":0.002},
{"zone":"2800-3000","cls":"LR","cover":"BR","date":"2002-07","ndvi":0.0244,"se":0.002},
{"zone":"2800-3000","cls":"LR","cover":"BR","date":"2003-07","ndvi":0.025,"se":0.002},
{"zone":"2800-3000","cls":"LR","cover":"BR","date":"2004-07","ndvi":0.0256,"se":0.002},
{"zone":"2800-3000","cls":"LR","cover":"BR","date":"2005-07","ndvi":0.0256,"se":0.002},
{"zone":"2800-3000","cls":"LR","cover":"BR","date":"2006-07","ndvi":0.0256,"se":0.002},
{"zone":"2800-3000","cls":"LR","cover":"BR","date":"2007-07","ndvi":0.0256,"se":0.002},
{"zone":"2800-3000","cls":"LR","cover":"BR","date":"2008-07","ndvi":0.0256,"se":0.002},
{"zone":"2800-3000","cls":"LR","cover":"BR","date":"2009-07","ndvi":0.0256,"se":0.002},
{"zone":"2800-3000","cls":"LR","cover":"BR","date":"2010-07","ndvi":0.025,"se":0.002},
{"zone":"2800-3000","cls":"LR","cover":"BR","date":"2011-07","ndvi":0.0167,"se":0.002},
{"zone":"2800-3000","cls":"LR","cover":"BR","date":"2012-07","ndvi":0.0192,"se":0.002},
{"zone":"2800-3000","cls":"LR","cover":"BR","date":"2013-07","ndvi":0.0218,"se":0.002},
{"zone":"2800-3000","cls":"LR","cover":"BR","date":"2014-07","ndvi":0.0231,"se":0.002},
{"zone":"2800-3000","cls":"LR","cover":"BR","date":"2015-07","ndvi":0.0244,"se":0.002},
{"zone":"2800-3000","cls":"LR","cover":"BR","date":"2016-07","ndvi":0.0231,"se":0.002},
{"zone":"2800-3000","cls":"LR","cover":"BR","date":"2017-07","ndvi":0.0295,"se":0.002},
{"zone":"2800-3000","cls":"LR","cover":"BR","date":"2018-07","ndvi":0.0218,"se":0.002},
{"zone":"2800-3000","cls":"LR","cover":"BR","date":"2019-07","ndvi":0.0269,"se":0.002},
{"zone":"2800-3000","cls":"LR","cover":"BR","date":"2020-07","ndvi":0.036,"se":0.003},
{"zone":"2800-3000","cls":"LR","cover":"BR","date":"2021-07","ndvi":0.0256,"se":0.002},
{"zone":"2800-3000","cls":"LR","cover":"BR","date":"2022-07","ndvi":0.0256,"se":0.002},
{"zone":"2800-3000","cls":"LR","cover":"SVA","date":"1984-07","ndvi":0.06,"se":0.006},
{"zone":"2800-3000","cls":"LR","cover":"SVA","date":"1985-07","ndvi":-0.002,"se":0.006},
{"zone":"2800-3000","cls":"LR","cover":"SVA","date":"1986-07","ndvi":0.041,"se":0.005},
{"zone":"2800-3000","cls":"LR","cover":"SVA","date":"1987-07","ndvi":0.041,"se":0.003},
{"zone":"2800-3000","cls":"LR","cover":"SVA","date":"1988-07","ndvi":0.045,"se":0.003},
{"zone":"2800-3000","cls":"LR","cover":"SVA","date":"1989-07","ndvi":0.048,"se":0.003},
{"zone":"2800-3000","cls":"LR","cover":"SVA","date":"1990-07","ndvi":0.05,"se":0.003},
{"zone":"2800-3000","cls":"LR","cover":"SVA","date":"1991-07","ndvi":0.053,"se":0.003},
{"zone":"2800-3000","cls":"LR","cover":"SVA","date":"1992-07","ndvi":0.048,"se":0.003},
{"zone":"2800-3000","cls":"LR","cover":"SVA","date":"1993-07","ndvi":0.046,"se":0.003},
{"zone":"2800-3000","cls":"LR","cover":"SVA","date":"1994-07","ndvi":0.05,"se":0.003},
{"zone":"2800-3000","cls":"LR","cover":"SVA","date":"1995-07","ndvi":0.052,"se":0.003},
{"zone":"2800-3000","cls":"LR","cover":"SVA","date":"1996-07","ndvi":0.041,"se":0.003},
{"zone":"2800-3000","cls":"LR","cover":"SVA","date":"1997-07","ndvi":0.043,"se":0.003},
{"zone":"2800-3000","cls":"LR","cover":"SVA","date":"1998-07","ndvi":0.05,"se":0.003},
{"zone":"2800-3000","cls":"LR","cover":"SVA","date":"1999-07","ndvi":0.058,"se":0.003},
{"zone":"2800-3000","cls":"LR","cover":"SVA","date":"2000-07","ndvi":0.068,"se":0.003},
{"zone":"2800-3000","cls":"LR","cover":"SVA","date":"2001-07","ndvi":0.05,"se":0.003},
{"zone":"2800-3000","cls":"LR","cover":"SVA","date":"2002-07","ndvi":0.05,"se":0.003},
{"zone":"2800-3000","cls":"LR","cover":"SVA","date":"2003-07","ndvi":0.056,"se":0.003},
{"zone":"2800-3000","cls":"LR","cover":"SVA","date":"2004-07","ndvi":0.056,"se":0.003},
{"zone":"2800-3000","cls":"LR","cover":"SVA","date":"2005-07","ndvi":0.05,"se":0.003},
{"zone":"2800-3000","cls":"LR","cover":"SVA","date":"2006-07","ndvi":0.046,"se":0.003},
{"zone":"2800-3000","cls":"LR","cover":"SVA","date":"2007-07","ndvi":0.045,"se":0.003},
{"zone":"2800-3000","cls":"LR","cover":"SVA","date":"2008-07","ndvi":0.035,"se":0.003},
{"zone":"2800-3000","cls":"LR","cover":"SVA","date":"2009-07","ndvi":0.045,"se":0.003},
{"zone":"2800-3000","cls":"LR","cover":"SVA","date":"2010-07","ndvi":0.047,"se":0.003},
{"zone":"2800-3000","cls":"LR","cover":"SVA","date":"2011-07","ndvi":0.05,"se":0.003},
{"zone":"2800-3000","cls":"LR","cover":"SVA","date":"2012-07","ndvi":0.052,"se":0.003},
{"zone":"2800-3000","cls":"LR","cover":"SVA","date":"2013-07","ndvi":0.058,"se":0.003},
{"zone":"2800-3000","cls":"LR","cover":"SVA","date":"2014-07","ndvi":0.052,"se":0.003},
{"zone":"2800-3000","cls":"LR","cover":"SVA","date":"2015-07","ndvi":0.05,"se":0.003},
{"zone":"2800-3000","cls":"LR","cover":"SVA","date":"2016-07","ndvi":0.067,"se":0.003},
{"zone":"2800-3000","cls":"LR","cover":"SVA","date":"2017-07","ndvi":0.055,"se":0.003},
{"zone":"2800-3000","cls":"LR","cover":"SVA","date":"2018-07","ndvi":0.048,"se":0.003},
{"zone":"2800-3000","cls":"LR","cover":"SVA","date":"2019-07","ndvi":0.073,"se":0.003},
{"zone":"2800-3000","cls":"LR","cover":"SVA","date":"2020-07","ndvi":0.127,"se":0.003},
{"zone":"2800-3000","cls":"LR","cover":"SVA","date":"2021-07","ndvi":0.066,"se":0.003},
{"zone":"2800-3000","cls":"LR","cover":"SVA","date":"2022-07","ndvi":0.056,"se":0.003}
]},
"vconcat": [
 {"hconcat": [
  {"width": 650, "height": 386,
   "title": {"text": "2400–2600 m a.s.l."},
   "data": {"name": "ndvi"},
   "transform": [{"filter": "datum.zone == '2400-2600'"}],
   "encoding": {"x": {"field": "date", "type": "temporal",
      "scale": {"domain": [{"year": 1982, "month": 9, "date": 24}, {"year": 2024, "month": 9, "date": 24}]},
      "axis": {"title": "Year [CE]", "titleX": 691, "titleY": 67, "titleBaseline": "middle", "titleAlign": "center", "format": "%Y",
        "values": [{"year": 1985}, {"year": 1990}, {"year": 1995}, {"year": 2000}, {"year": 2005}, {"year": 2010}, {"year": 2015}, {"year": 2020}],
        "labelExpr": "year(datum.value) % 10 == 0 ? datum.label : ''"}}},
   "layer": [
    {"mark": {"type": "errorband", "opacity": 0.4},
     "encoding": {
      "y": {"field": "ndvi", "type": "quantitative", "scale": {"domain": [-0.0208, 0.2762], "zero": false, "nice": false},
        "axis": {"title": "NDVI", "titleX": -86, "titleY": 193, "titleBaseline": "middle", "titleAlign": "center", "values": [0, 0.05, 0.1, 0.15, 0.2, 0.25],
          "labelExpr": "datum.value == 0 || datum.value == 0.1 || datum.value == 0.2 ? format(datum.value, '.1f') : ''"}},
      "yError": {"field": "se"},
      "color": {"field": "cls", "type": "nominal", "scale": {"domain": ["EL_N", "EL_A", "LR"], "range": ["#7b52ab", "#3794a5", "#6ed458"]},
        "legend": {"orient": "none", "legendX": 307.5, "legendY": 564.5, "title": null, "columns": 2, "symbolType": "square", "symbolSize": 3721, "symbolStrokeWidth": 3, "symbolStrokeColor": "transparent", "symbolOpacity": 0.4, "rowPadding": 1, "columnPadding": 22, "labelOffset": 22.5, "labelColor": "transparent",
          "labelExpr": "datum.label == 'EL_N' ? 'ELₙ' : datum.label == 'EL_A' ? 'ELₐ' : 'LR'"}},
      "detail": {"field": "cover"}}},
    {"mark": {"type": "line", "strokeWidth": 2.5},
     "encoding": {
      "y": {"field": "ndvi", "type": "quantitative"},
      "stroke": {"field": "cls", "type": "nominal", "sort": ["EL_N", "EL_A", "LR"], "scale": {"range": ["#45337d", "#2a7a8c", "#6bc35a"]},
        "legend": {"orient": "none", "legendX": 307.5, "legendY": 564.5, "title": null, "columns": 2, "symbolType": "M-1,-1M-1,0H1M1,1", "symbolSize": 3721, "symbolStrokeWidth": 3, "symbolFillColor": "transparent", "rowPadding": 1, "columnPadding": 22, "labelOffset": 22.5,
          "labelExpr": "datum.label == 'EL_N' ? 'ELₙ' : datum.label == 'EL_A' ? 'ELₐ' : 'LR'"}},
      "strokeDash": {"field": "cover", "type": "nominal", "scale": {"domain": ["BR", "SVA"], "range": [[1, 0], [11, 6]]},
        "legend": {"orient": "none", "legendX": 675, "legendY": 569, "title": null, "symbolType": "stroke", "symbolSize": 2916, "symbolStrokeWidth": 2, "symbolStrokeColor": "#a8a8a8", "rowPadding": 9, "labelOffset": 28, "labelLimit": 500,
          "labelExpr": "datum.label == 'BR' ? 'Bare rocks' : 'Sparsely Vegetated Areas'"}}}}
   ]},
  {"width": 649, "height": 386,
   "title": {"text": "2800–3000 m a.s.l."},
   "data": {"name": "ndvi"},
   "transform": [{"filter": "datum.zone == '2800-3000'"}],
   "encoding": {"x": {"field": "date", "type": "temporal",
      "scale": {"domain": [{"year": 1982, "month": 9, "date": 24}, {"year": 2024, "month": 9, "date": 24}]},
      "axis": {"title": null, "format": "%Y",
        "values": [{"year": 1985}, {"year": 1990}, {"year": 1995}, {"year": 2000}, {"year": 2005}, {"year": 2010}, {"year": 2015}, {"year": 2020}],
        "labelExpr": "year(datum.value) % 10 == 0 ? datum.label : ''"}}},
   "layer": [
    {"mark": {"type": "errorband", "opacity": 0.4},
     "encoding": {
      "y": {"field": "ndvi", "type": "quantitative", "scale": {"domain": [-0.0208, 0.2762], "zero": false, "nice": false},
        "axis": {"title": null, "values": [0, 0.05, 0.1, 0.15, 0.2, 0.25],
          "labelExpr": "datum.value == 0 || datum.value == 0.1 || datum.value == 0.2 ? format(datum.value, '.1f') : ''"}},
      "yError": {"field": "se"},
      "color": {"field": "cls", "type": "nominal", "scale": {"domain": ["EL_N", "EL_A", "LR"], "range": ["#7b52ab", "#3794a5", "#6ed458"]}},
      "detail": {"field": "cover"}}},
    {"mark": {"type": "line", "strokeWidth": 2.5},
     "encoding": {
      "y": {"field": "ndvi", "type": "quantitative"},
      "stroke": {"field": "cls", "type": "nominal", "sort": ["EL_N", "EL_A", "LR"], "scale": {"range": ["#45337d", "#2a7a8c", "#6bc35a"]}},
      "strokeDash": {"field": "cover", "type": "nominal", "scale": {"domain": ["BR", "SVA"], "range": [[1, 0], [11, 6]]}}}}
   ]}
 ], "spacing": 77, "bounds": "flush"},
 {"hconcat": [
  {"width": 1032, "height": 195, "data": {"values": []}, "mark": "point"},
  {"width": 732, "height": 195,
   "layer": [
    {"data": {"values": [{"text": "Article", "line": 1}]},
     "mark": {"type": "text", "align": "left", "baseline": "bottom", "font": "Liberation Serif", "fontStyle": "italic", "fontSize": 14, "color": "#777777"},
     "encoding": {
      "x": {"datum": 0, "type": "quantitative", "scale": {"domain": [0, 1]},
        "axis": {"orient": "top", "domainColor": "#a3a3a3", "domainWidth": 3, "labels": false, "ticks": false, "grid": false, "title": null}},
      "y": {"field": "line", "type": "quantitative", "scale": {"domain": [-0.25, 7.25], "reverse": true, "zero": false, "nice": false}, "axis": null},
      "text": {"field": "text"}}},
    {"data": {"values": [
      {"text": "NDVI Analysis for Monitoring Land-cover Evolution on", "line": 2},
      {"text": "Selected Deglaciated Areas in the Gran Paradiso Group", "line": 3},
      {"text": "(Western Italian Alps)", "line": 4}]},
     "mark": {"type": "text", "align": "left", "baseline": "middle", "font": "Liberation Serif", "fontWeight": "bold", "fontSize": 29.5, "color": "#1e1e1e"},
     "encoding": {
      "x": {"datum": 0, "type": "quantitative"},
      "y": {"field": "line", "type": "quantitative"},
      "text": {"field": "text"}}},
    {"data": {"values": [
      {"text": ["Simona Gennaro ¹˒³, Riccardo Cerrato ²˒³˒*, Maria Cristina Salvatore ¹˒², Roberto Salzano ³, Rosamaria", "Salvatori ⁴, and Carlo Baroni ¹˒²"], "line": 6}]},
     "mark": {"type": "text", "align": "left", "baseline": "top", "font": "Liberation Serif", "fontSize": 17.5, "lineHeight": 15, "color": "#333333"},
     "encoding": {
      "x": {"datum": 0, "type": "quantitative"},
      "y": {"field": "line", "type": "quantitative"},
      "text": {"field": "text"}}}
   ]}
 ], "spacing": 0, "bounds": "flush"}
],
"config": {
 "view": {"stroke": null},
 "font": "Liberation Sans",
 "axis": {"domainColor": "#adadad", "domainWidth": 2, "ticks": false, "tickSize": 0, "gridColor": "#efefef", "gridWidth": 1,
   "labelColor": "#4d4d4d", "labelFont": "Liberation Sans", "labelFontSize": 24, "titleFont": "Liberation Sans", "titleFontSize": 28, "titleColor": "#1a1a1a", "titleFontWeight": "normal"},
 "axisX": {"labelPadding": 14},
 "axisY": {"labelPadding": 19},
 "legend": {"labelFont": "Liberation Sans", "labelFontSize": 26, "labelColor": "#222222", "padding": 0},
 "title": {"fontSize": 26, "font": "Liberation Sans", "fontWeight": "normal", "color": "#333333", "anchor": "middle", "offset": 21, "baseline": "alphabetic"}
}
}
